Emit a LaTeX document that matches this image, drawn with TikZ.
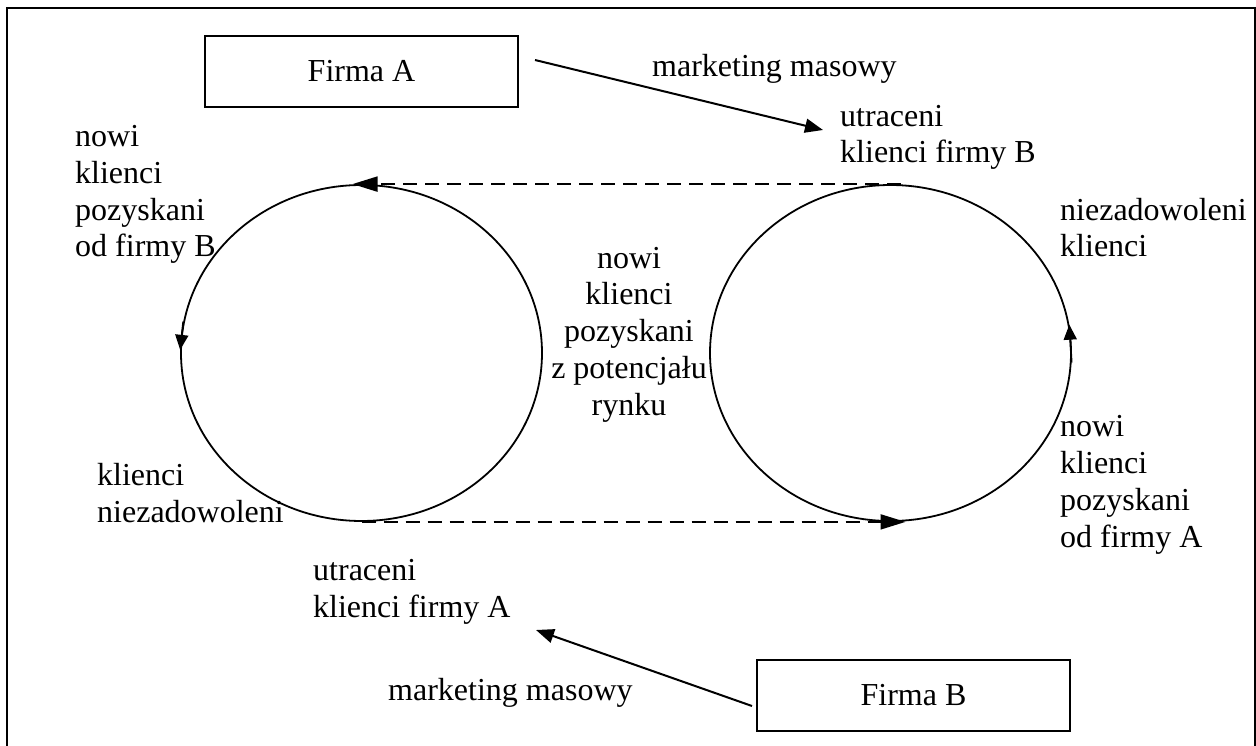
\documentclass[tikz,border=0pt]{standalone}
\usepackage{fontspec}
\setmainfont{Liberation Serif}
\usetikzlibrary{shapes.geometric,arrows.meta}
\begin{document}
\begin{tikzpicture}[x=1pt,y=-1pt,
  txt/.style={inner sep=0pt, align=left, anchor=base west, font=\fontsize{32}{36.7}\selectfont},
  firm/.style={draw, line width=2pt, minimum width=313pt, minimum height=71pt, inner sep=0pt, font=\fontsize{32}{36.7}\selectfont},
  loop/.style={draw, ellipse, line width=1.8pt, minimum width=361pt, minimum height=336pt, inner sep=0pt},
  flow/.style={line width=2pt, -{Triangle[length=18pt,width=14pt]}},
  swap/.style={line width=2pt, dash pattern=on 14pt off 8pt, -{Triangle[length=25pt,width=15pt]}},
  turn/.style={line width=1.8pt, -{Triangle[length=15pt,width=13pt]}}
]
\useasboundingbox (0,0) rectangle (1256,746);
% outer frame (open at the bottom)
\draw[line width=2pt] (7,746) -- (7,8) -- (1255,8) -- (1255,746);

% the two firms
\node[firm] (firmA) at (361.5,71.5) {Firma A};
\node[firm] (firmB) at (913.5,695.5) {Firma B};

% customer loops
\node[loop] (loopA) at (361.5,353) {};
\node[loop] (loopB) at (890.5,353) {};

% labels (positions give the baseline of the last line)
\node[txt] (mmA) at (652,77) {marketing masowy};
\node[txt] (lostB) at (840,163) {utraceni\\klienci firmy B};
\node[txt] (newB) at (75,257) {nowi\\klienci\\pozyskani\\od firmy B};
\node[txt] (unsatB) at (1060,257) {niezadowoleni\\klienci};
\node[txt, align=center, anchor=base] (market) at (629,415) {nowi\\klienci\\pozyskani\\z potencjału\\rynku};
\node[txt] (unsatA) at (97,522) {klienci\\niezadowoleni};
\node[txt] (newA) at (1060,547) {nowi\\klienci\\pozyskani\\od firmy A};
\node[txt] (lostA) at (313,617) {utraceni\\klienci firmy A};
\node[txt] (mmB) at (388,700) {marketing masowy};

% mass marketing arrows
\coordinate (fromA) at (535,60);
\coordinate (toB) at (823,130);
\coordinate (fromB) at (752,706);
\coordinate (toA) at (536,630);
\draw[flow] (fromA) -- (toB);
\draw[flow] (fromB) -- (toA);

% customers moving between the loops
\draw[swap] ([xshift=10pt]loopB.north) -- ([xshift=-9pt]loopA.north);
\draw[swap] (loopA.south) -- ([xshift=15pt]loopB.south);

% direction of each loop
\draw[turn] (loopA.170) -- (loopA.179);
\draw[turn] (loopB.-3) -- (loopB.9);
\end{tikzpicture}
\end{document}
